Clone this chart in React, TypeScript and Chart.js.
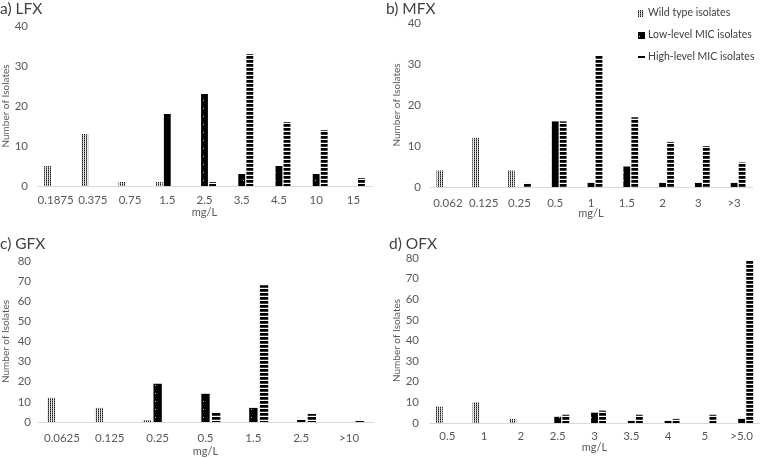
import React, { useEffect, useRef } from "react";
import { Chart, registerables } from "chart.js";
Chart.register(...registerables);

const SERIES_NAMES = ["Wild type isolates", "Low-level MIC isolates", "High-level MIC isolates"];

const lfxLabels = ["0.1875", "0.375", "0.75", "1.5", "2.5", "3.5", "4.5", "10", "15"];
const lfxWild = [5, 13, 1, 1, 0, 0, 0, 0, 0];
const lfxLow = [0, 0, 0, 18, 23, 3, 5, 3, 0];
const lfxHigh = [0, 0, 0, 0, 1, 33, 16, 14, 2];

const mfxLabels = ["0.062", "0.125", "0.25", "0.5", "1", "1.5", "2", "3", ">3"];
const mfxWild = [4, 12, 4, 0, 0, 0, 0, 0, 0];
const mfxLow = [0, 0, 0, 16, 1, 5, 1, 1, 1];
const mfxHigh = [0, 0, 1, 16, 32, 17, 11, 10, 6];

const gfxLabels = ["0.0625", "0.125", "0.25", "0.5", "1.5", "2.5", ">10"];
const gfxWild = [12, 7, 1, 0, 0, 0, 0];
const gfxLow = [0, 0, 19, 14, 7, 1, 0];
const gfxHigh = [0, 0, 0, 5, 68, 4, 1];

const ofxLabels = ["0.5", "1", "2", "2.5", "3", "3.5", "4", "5", ">5.0"];
const ofxWild = [8, 10, 2, 0, 0, 0, 0, 0, 0];
const ofxLow = [0, 0, 0, 3, 5, 1, 1, 0, 2];
const ofxHigh = [0, 0, 0, 4, 6, 4, 2, 4, 79];

const FONT = "Lato, 'Open Sans', sans-serif";
const TICK_COLOR = "#595959";
const TICK_SIZE = 11.5;
const TITLE_SIZE = 15.5;

type Spec = {
  title: string;
  labels: string[];
  wild: number[];
  low: number[];
  high: number[];
  x: number;
  y: number;
  yMax: number;
  padL: number;
  padR: number;
  padB: number;
  titleTop: number;
  titleBottom: number;
  yWidth: number;
  yTitlePad: number;
  yTickPad: number;
  xHeight: number;
  xTickPad: number;
  catPct: number;
  barPct: number;
  legend?: boolean;
};

const PANELS: Spec[] = [
  {
    title: "a) LFX", labels: lfxLabels, wild: lfxWild, low: lfxLow, high: lfxHigh,
    x: 0, y: 0, yMax: 40, padL: 0, padR: 8, padB: 10, titleTop: 0, titleBottom: 7.4,
    yWidth: 37, yTitlePad: 0, yTickPad: 9, xHeight: 33, xTickPad: 7, catPct: 0.65, barPct: 0.85,
  },
  {
    title: "b) MFX", labels: mfxLabels, wild: mfxWild, low: mfxLow, high: mfxHigh,
    x: 380, y: 0, yMax: 40, padL: 6, padR: 8, padB: 9, titleTop: 0, titleBottom: 4.4,
    yWidth: 44, yTitlePad: 5, yTickPad: 9, xHeight: 33, xTickPad: 9, catPct: 0.67, barPct: 0.85,
    legend: true,
  },
  {
    title: "c) GFX", labels: gfxLabels, wild: gfxWild, low: gfxLow, high: gfxHigh,
    x: 0, y: 229, yMax: 80, padL: 0, padR: 7, padB: 0, titleTop: 6, titleBottom: 7.4,
    yWidth: 38, yTitlePad: 0, yTickPad: 7, xHeight: 36, xTickPad: 9, catPct: 0.67, barPct: 0.78,
  },
  {
    title: "d) OFX", labels: ofxLabels, wild: ofxWild, low: ofxLow, high: ofxHigh,
    x: 380, y: 229, yMax: 80, padL: 9, padR: 0, padB: 4, titleTop: 5.6, titleBottom: 4.8,
    yWidth: 40, yTitlePad: 1.5, yTickPad: 10, xHeight: 31, xTickPad: 6, catPct: 0.66, barPct: 0.85,
  },
];

function makePatterns(ctx: CanvasRenderingContext2D) {
  const mk = (w: number, h: number, draw: (g: CanvasRenderingContext2D) => void) => {
    const c = document.createElement("canvas");
    c.width = w;
    c.height = h;
    const g = c.getContext("2d")!;
    draw(g);
    return ctx.createPattern(c, "repeat") as CanvasPattern;
  };
  const wild = mk(2, 2, (g) => {
    g.fillStyle = "#ffffff";
    g.fillRect(0, 0, 2, 2);
    g.fillStyle = "#1a1a1a";
    g.fillRect(0, 0, 1, 1);
    g.fillStyle = "#7a7a7a";
    g.fillRect(0, 1, 1, 1);
    g.fillStyle = "#d8d8d8";
    g.fillRect(1, 1, 1, 1);
  });
  const low = mk(8, 8, (g) => {
    g.fillStyle = "#000000";
    g.fillRect(0, 0, 8, 8);
    g.fillStyle = "#c8c8c8";
    g.fillRect(3, 4, 1, 1);
  });
  const high = mk(1, 4, (g) => {
    g.fillStyle = "#ffffff";
    g.fillRect(0, 0, 1, 4);
    g.fillStyle = "#000000";
    g.fillRect(0, 0, 1, 2);
    g.fillStyle = "#3a3a3a";
    g.fillRect(0, 2, 1, 1);
  });
  return { wild, low, high };
}

function Panel({ spec }: { spec: Spec }) {
  const ref = useRef<HTMLCanvasElement>(null);
  useEffect(() => {
    const canvas = ref.current!;
    const ctx = canvas.getContext("2d")!;
    const pats = makePatterns(ctx);
    const legendPlugin = {
      id: "customLegend",
      afterDraw(chart: any) {
        if (!spec.legend) return;
        const c = chart.ctx as CanvasRenderingContext2D;
        const ds = chart.data.datasets;
        const rows = [13, 35, 57];
        const swatch = [
          { w: 6, h: 7 },
          { w: 7, h: 7 },
          { w: 7, h: 2 },
        ];
        c.save();
        c.font = `10.5px ${FONT}`;
        c.textBaseline = "middle";
        c.textAlign = "left";
        ds.forEach((d: any, i: number) => {
          const cy = rows[i];
          const sw = swatch[i];
          c.fillStyle = d.backgroundColor;
          c.fillRect(258, Math.round(cy - sw.h / 2), sw.w, sw.h);
          c.fillStyle = "#404040";
          c.fillText(d.label, 268, cy);
        });
        c.restore();
      },
    };
    const chart = new Chart(ctx, {
      type: "bar",
      data: {
        labels: spec.labels,
        datasets: [
          { label: SERIES_NAMES[0], data: spec.wild, backgroundColor: pats.wild as any, borderWidth: 0 },
          { label: SERIES_NAMES[1], data: spec.low, backgroundColor: pats.low as any, borderWidth: 0 },
          { label: SERIES_NAMES[2], data: spec.high, backgroundColor: pats.high as any, borderWidth: 0 },
        ],
      },
      options: {
        responsive: false,
        animation: false,
        devicePixelRatio: 1,
        datasets: {
          bar: { categoryPercentage: spec.catPct, barPercentage: spec.barPct },
        },
        layout: { padding: { left: spec.padL, right: spec.padR, top: 0, bottom: spec.padB } },
        plugins: {
          legend: { display: false },
          tooltip: { enabled: false },
          title: {
            display: true,
            text: spec.title,
            align: "start",
            color: "#404040",
            font: { family: FONT, size: TITLE_SIZE, weight: "normal" as any },
            padding: { top: spec.titleTop, bottom: spec.titleBottom },
          },
        },
        scales: {
          x: {
            grid: { display: false, drawTicks: false },
            border: { display: true, color: "#d9d9d9", width: 1 },
            ticks: {
              color: TICK_COLOR,
              font: { family: FONT, size: TICK_SIZE },
              padding: spec.xTickPad,
              maxRotation: 0,
              autoSkip: false,
            },
            title: {
              display: true,
              text: "mg/L",
              color: TICK_COLOR,
              font: { family: FONT, size: 11 },
              padding: 0,
            },
            afterFit: (s: any) => {
              s.height = spec.xHeight;
            },
          },
          y: {
            min: 0,
            max: spec.yMax,
            grid: { display: false, drawTicks: false },
            border: { display: false },
            ticks: {
              stepSize: 10,
              color: TICK_COLOR,
              font: { family: FONT, size: TICK_SIZE },
              padding: spec.yTickPad,
            },
            title: {
              display: true,
              text: "Number of Isolates",
              color: TICK_COLOR,
              font: { family: FONT, size: 10 },
              padding: { top: spec.yTitlePad, bottom: 0 },
            },
            afterFit: (s: any) => {
              s.width = spec.yWidth;
            },
          },
        },
      },
      plugins: [legendPlugin],
    });
    return () => chart.destroy();
  }, [spec]);
  return (
    <canvas
      ref={ref}
      width={380}
      height={229}
      style={{ position: "absolute", left: spec.x, top: spec.y, width: 380, height: 229, display: "block" }}
    />
  );
}

export default function App() {
  return (
    <div style={{ position: "absolute", left: 0, top: 0, width: 760, height: 458, background: "#ffffff" }}>
      {PANELS.map((p) => (
        <Panel key={p.title} spec={p} />
      ))}
    </div>
  );
}
